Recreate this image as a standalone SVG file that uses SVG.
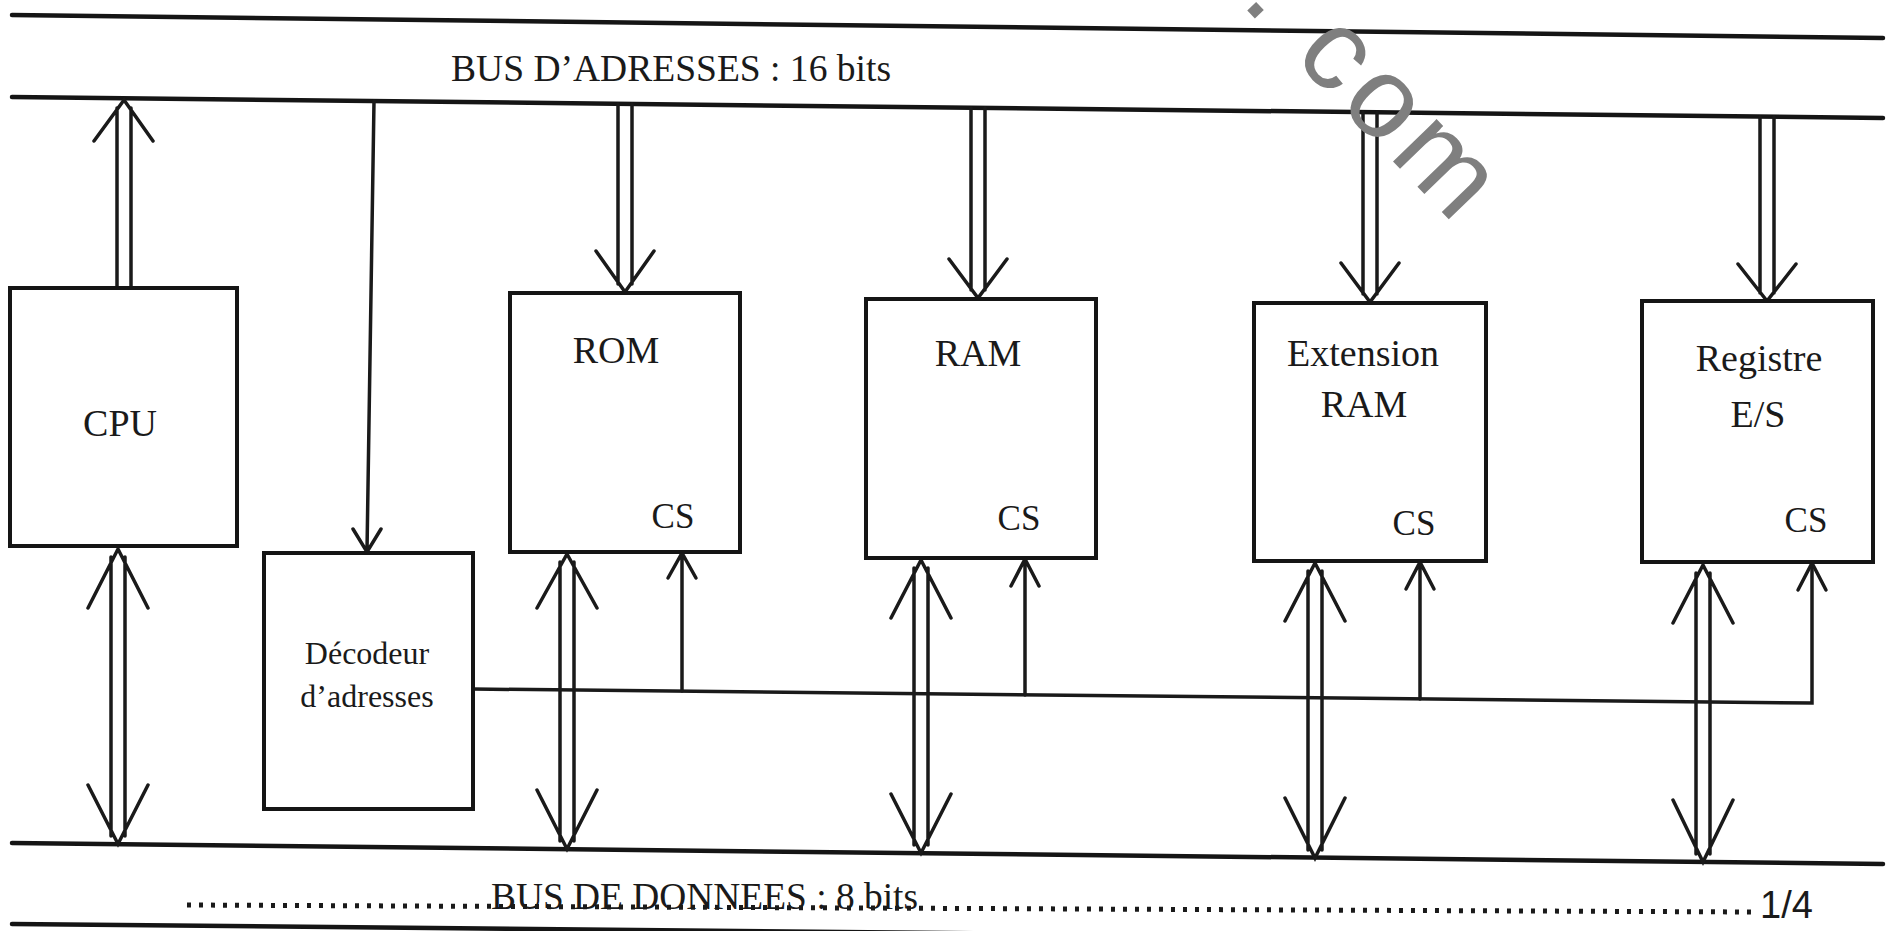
<svg xmlns="http://www.w3.org/2000/svg" width="1893" height="931" viewBox="0 0 1893 931">
<defs>
<style>
.bus{stroke:#151515;stroke-width:4.5;fill:none;stroke-linecap:round}
.box{stroke:#151515;stroke-width:4;fill:#ffffff}
.ln{stroke:#1a1a1a;stroke-width:3.5;fill:none;stroke-linecap:round;stroke-linejoin:miter}
.lbl{font-family:"Liberation Serif","Times New Roman",serif;fill:#1a1a1a;text-anchor:middle}
.big{font-size:38px}
.cs{font-size:35px}
.dec{font-size:32px}
.dots{stroke:#1a1a1a;stroke-width:5;stroke-dasharray:4 8;fill:none}
</style>
</defs>
<rect x="0" y="0" width="1893" height="931" fill="#ffffff"/>

<g id="buses">
<line class="bus" x1="12" y1="15" x2="1883" y2="38"/>
<line class="bus" x1="12" y1="97" x2="1883" y2="118"/>
<line class="bus" x1="12" y1="843" x2="1883" y2="864"/>
<line class="bus" x1="12" y1="924" x2="1883" y2="942"/>
<line class="dots" x1="187" y1="905" x2="1752" y2="912"/>
<text x="451" y="81" font-family="Liberation Serif, serif" font-size="37" fill="#1a1a1a" textLength="440" lengthAdjust="spacingAndGlyphs">BUS D’ADRESSES : 16 bits</text>
<text x="491" y="909" font-family="Liberation Serif, serif" font-size="37" fill="#1a1a1a" textLength="427" lengthAdjust="spacingAndGlyphs">BUS DE DONNEES : 8 bits</text>
<text x="1760" y="918" font-family="Liberation Sans, Arial, sans-serif" font-size="38" fill="#1a1a1a">1/4</text>
</g>

<g id="connectors">
<!-- CPU to address bus (up) -->
<path class="ln" d="M117,288 V108 M131,288 V108 M94,141 L124,100 L153,141"/>
<!-- Address bus to decoder -->
<path class="ln" d="M374,101 L367,551 M353,529 L367,552 L381,529"/>
<!-- Address bus to ROM -->
<path class="ln" d="M618,104 V284 M632,104 V284 M596,251 L625,292 L654,251"/>
<!-- Address bus to RAM -->
<path class="ln" d="M971,108 V290 M985,108 V290 M949,259 L978,298 L1007,259"/>
<!-- Address bus to Extension RAM -->
<path class="ln" d="M1363,112 V294 M1377,112 V294 M1341,263 L1370,302 L1399,263"/>
<!-- Address bus to Registre -->
<path class="ln" d="M1760,117 V293 M1774,117 V293 M1738,264 L1767,301 L1796,264"/>

<!-- Data bus bidirectional arrows -->
<path class="ln" d="M111,557 V836 M125,557 V836 M88,608 L118,549 L148,608 M88,785 L118,844 L148,785"/>
<path class="ln" d="M560,562 V841 M574,562 V841 M537,608 L567,554 L597,608 M537,790 L567,849 L597,790"/>
<path class="ln" d="M914,568 V845 M928,568 V845 M891,618 L921,560 L951,618 M891,794 L921,853 L951,794"/>
<path class="ln" d="M1308,571 V850 M1322,571 V850 M1285,621 L1315,563 L1345,621 M1285,798 L1315,858 L1345,798"/>
<path class="ln" d="M1696,573 V854 M1710,573 V854 M1673,623 L1703,565 L1733,623 M1673,800 L1703,862 L1733,800"/>

<!-- Chip select lines -->
<polyline class="ln" points="473,689 1812,703 1812,564"/>
<path class="ln" d="M1798,590 L1812,563 L1826,590"/>
<path class="ln" d="M682,691 V554 M668,578 L682,553 L696,578"/>
<path class="ln" d="M1025,695 V560 M1011,586 L1025,559 L1039,586"/>
<path class="ln" d="M1420,699 V563 M1406,589 L1420,562 L1434,589"/>
</g>

<g id="cpu">
<rect class="box" x="10" y="288" width="227" height="258"/>
<text class="lbl big" x="120" y="436">CPU</text>
</g>

<g id="decodeur">
<rect class="box" x="264" y="553" width="209" height="256"/>
<text class="lbl dec" x="367" y="664">Décodeur</text>
<text class="lbl dec" x="367" y="707">d’adresses</text>
</g>

<g id="rom">
<rect class="box" x="510" y="293" width="230" height="259"/>
<text class="lbl big" x="616" y="363">ROM</text>
<text class="lbl cs" x="673" y="528">CS</text>
</g>

<g id="ram">
<rect class="box" x="866" y="299" width="230" height="259"/>
<text class="lbl big" x="978" y="366">RAM</text>
<text class="lbl cs" x="1019" y="530">CS</text>
</g>

<g id="extension-ram">
<rect class="box" x="1254" y="303" width="232" height="258"/>
<text class="lbl big" x="1363" y="366">Extension</text>
<text class="lbl big" x="1364" y="417">RAM</text>
<text class="lbl cs" x="1414" y="535">CS</text>
</g>

<g id="registre-es">
<rect class="box" x="1642" y="301" width="231" height="261"/>
<text class="lbl big" x="1759" y="371">Registre</text>
<text class="lbl big" x="1758" y="427">E/S</text>
<text class="lbl cs" x="1806" y="532">CS</text>
</g>

<g id="watermark">
<text transform="translate(1240,3) rotate(46)" font-family="Liberation Sans, Arial, sans-serif" font-size="115" fill="#7f7f7f" letter-spacing="8">.<tspan dx="35">com</tspan></text>
</g>
</svg>
